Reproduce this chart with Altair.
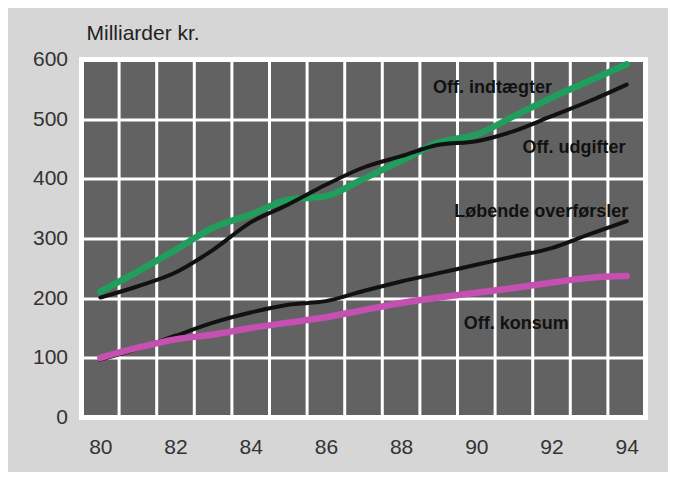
import altair as alt
import pandas as pd

years = list(range(80, 95))
indtaegter = [211, 245, 281, 318, 340, 365, 371, 400, 430, 461, 474, 505, 536, 564, 592]
udgifter = [201, 220, 243, 281, 327, 357, 390, 419, 438, 457, 463, 480, 505, 530, 558]
lobende = [97, 115, 137, 159, 176, 189, 195, 212, 228, 242, 256, 270, 284, 307, 329]
konsum = [100, 117, 131, 139, 150, 159, 168, 180, 192, 201, 209, 217, 226, 234, 237]

series_names = ["Off. indtægter", "Off. udgifter", "Løbende overførsler", "Off. konsum"]
series_values = [indtaegter, udgifter, lobende, konsum]
series_colors = ["#1f9e5c", "#111111", "#111111", "#c64fb2"]
series_widths = [6.5, 4, 4, 6.5]

label_texts = ["Off. indtægter", "Off. udgifter", "Løbende overførsler", "Off. konsum"]
label_x = [90.43, 92.6, 91.73, 91.06]
label_y = [553, 452, 345, 156]

half_years = [y + 0.5 for y in range(80, 94)]
x_tick_values = [80, 82, 84, 86, 88, 90, 92, 94]
y_tick_values = [0, 100, 200, 300, 400, 500, 600]

FONT = "Liberation Sans"

x_scale = alt.Scale(domain=[79.5, 94.5], nice=False, zero=False)
y_scale = alt.Scale(domain=[0, 600], nice=False)

x_axis = alt.Axis(values=x_tick_values, format="d", title=None, grid=False, ticks=False,
                  domain=False, labelFontSize=21, labelPadding=19, labelColor="#333333",
                  labelFont=FONT)
y_axis = alt.Axis(values=y_tick_values, title=None, grid=True, gridColor="white",
                  gridWidth=3, gridOpacity=1, ticks=False, domain=False,
                  labelFontSize=21, labelPadding=14, labelColor="#333333", labelFont=FONT)

grid_df = pd.DataFrame({"x": half_years})
vgrid = alt.Chart(grid_df).mark_rule(color="white", strokeWidth=3).encode(
    x=alt.X("x:Q", scale=x_scale, axis=x_axis)
)

base_y = alt.Chart(pd.DataFrame({"v": y_tick_values})).mark_point(opacity=0).encode(
    y=alt.Y("v:Q", scale=y_scale, axis=y_axis)
)

layers = [base_y, vgrid]
for name, vals, col, w in zip(series_names, series_values, series_colors, series_widths):
    df = pd.DataFrame({"year": years, "value": vals, "series": name})
    layers.append(
        alt.Chart(df).mark_line(color=col, strokeWidth=w, interpolate="monotone",
                                strokeCap="round").encode(
            x=alt.X("year:Q", scale=x_scale, axis=x_axis),
            y=alt.Y("value:Q", scale=y_scale, axis=y_axis),
        )
    )

lab_df = pd.DataFrame({"text": label_texts, "x": label_x, "y": label_y})
labels = alt.Chart(lab_df).mark_text(font=FONT, fontSize=18, fontWeight="bold",
                                     color="#111111", align="center", baseline="middle").encode(
    x=alt.X("x:Q", scale=x_scale, axis=x_axis),
    y=alt.Y("y:Q", scale=y_scale, axis=y_axis),
    text="text:N",
)
layers.append(labels)

chart = alt.layer(*layers).properties(
    width=564,
    height=358,
    background="#d6d6d6",
    padding={"left": 73.5, "top": 51.5, "right": 22.5, "bottom": 54.5},
    autosize=alt.AutoSizeParams(type="none"),
    title=alt.TitleParams("Milliarder kr.", anchor="start", frame="group", fontSize=21,
                          fontWeight="normal", font=FONT, color="#222222", dx=5,
                          offset=5),
).configure_view(
    fill="#626262", stroke="white", strokeWidth=5
)

chart.save("out.html", embed_options={"renderer": "svg", "actions": False})
